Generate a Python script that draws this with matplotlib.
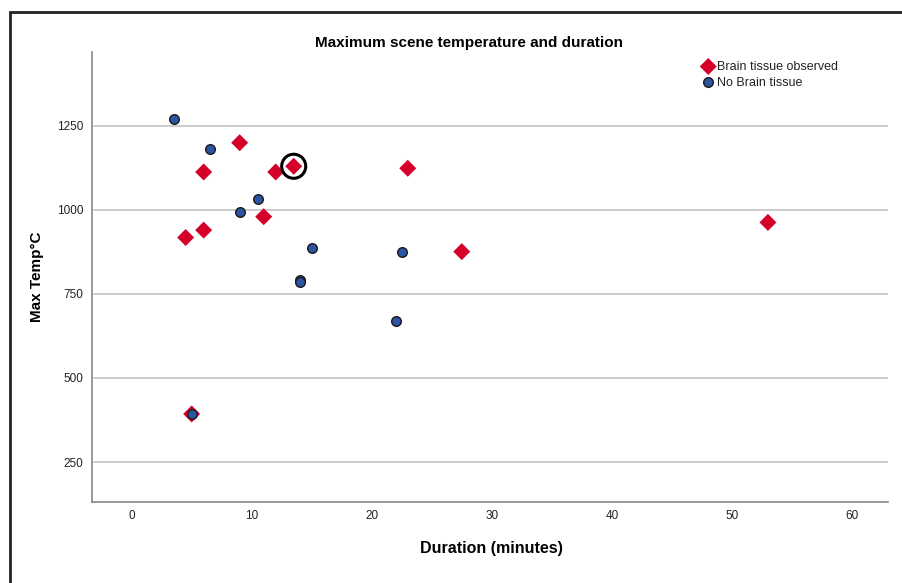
import matplotlib.pyplot as plt
from matplotlib.patches import Rectangle

# Data
brain_duration = [4.5, 6.0, 6.0, 9.0, 11.0, 12.0, 13.5, 23.0, 27.5, 53.0, 5.0]
brain_temp = [918, 940, 1113, 1200, 980, 1113, 1130, 1124, 876, 963, 393]

no_brain_duration = [3.5, 6.5, 9.0, 10.5, 15.0, 14.0, 14.0, 22.5, 22.0, 5.0]
no_brain_temp = [1272, 1180, 993, 1032, 886, 791, 786, 874, 671, 393]

# highlighted case
circled_duration = [13.5]
circled_temp = [1130]

x_ticks = [0, 10, 20, 30, 40, 50, 60]
y_ticks = [250, 500, 750, 1000, 1250]

plt.rcParams['font.family'] = ['Liberation Sans', 'DejaVu Sans']

fig = plt.figure(figsize=(9.03, 5.83), dpi=100)
W, H = 903, 583
ax = fig.add_axes([92 / W, 1 - 502 / H, (888 - 92) / W, (502 - 52) / H])

# outer frame (only left and top edges visible in the screenshot)
fig.patches.append(Rectangle((10 / W, -0.1), 1.2, (1 - 12 / H) + 0.1,
                             transform=fig.transFigure, fill=False,
                             edgecolor='#222222', linewidth=2))

ax.set_xlim(-3.3, 63)
ax.set_ylim(131, 1470)

ax.set_yticks(y_ticks)
ax.set_xticks(x_ticks)
ax.yaxis.grid(True, color='#cccccc', linewidth=1.4)
ax.set_axisbelow(True)
ax.tick_params(length=0, labelsize=8.5, labelcolor='#222222', pad=6)

for side in ['top', 'right']:
    ax.spines[side].set_visible(False)
for side in ['left', 'bottom']:
    ax.spines[side].set_color('#888888')
    ax.spines[side].set_linewidth(1.2)

ax.scatter(brain_duration, brain_temp, marker='D', s=75, color='#d4002a',
           edgecolors='none', zorder=3, label='Brain tissue observed')
ax.scatter(no_brain_duration, no_brain_temp, marker='o', s=48, color='#2b54a3',
           edgecolors='#1a1a1a', linewidths=1.0, zorder=4, label='No Brain tissue')
ax.scatter(circled_duration, circled_temp, marker='o', s=300, facecolors='none',
           edgecolors='black', linewidths=2.2, zorder=5)

fig.text(469 / W, 1 - 43 / H, 'Maximum scene temperature and duration',
         ha='center', va='center', fontsize=11, fontweight='bold')
fig.text(37 / W, 1 - 277 / H, 'Max Temp\u00b0C', rotation=90,
         ha='center', va='center', fontsize=11, fontweight='bold')
fig.text(491 / W, 1 - 548 / H, 'Duration (minutes)',
         ha='center', va='center', fontsize=11.5, fontweight='bold')

leg = ax.legend(loc='upper left', bbox_to_anchor=((692 - 92) / (888 - 92), 1.0),
                frameon=False, fontsize=9, handletextpad=0.1, borderpad=0.2,
                labelspacing=0.3, handlelength=1.2, markerscale=1.0)
for t in leg.get_texts():
    t.set_color('#222222')

fig.savefig('out.png', dpi=100)
